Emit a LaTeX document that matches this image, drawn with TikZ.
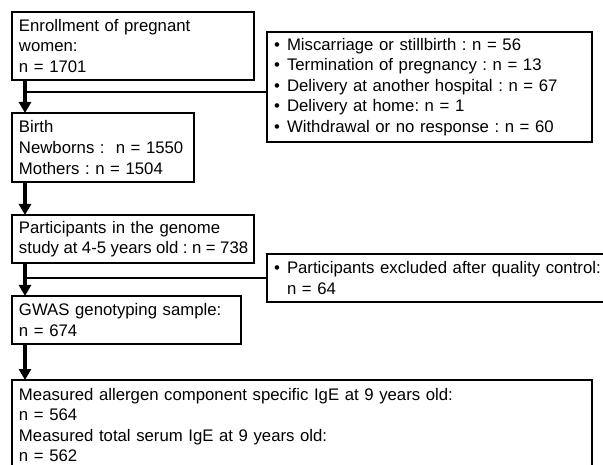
\documentclass[tikz,border=0pt]{standalone}
\usepackage{fontspec}
\setmainfont{Liberation Sans}
\usetikzlibrary{arrows.meta,positioning}
\newcommand{\bul}{\makebox[13pt][l]{\textbullet}}
\frenchspacing

\begin{document}
\begin{tikzpicture}[x=1pt, y=-1pt, node distance=33pt,
      box/.style={draw, line width=2pt, anchor=north west, align=left, inner xsep=7pt, inner ysep=0pt, outer sep=0pt,
        font=\fontsize{16.75}{20.6}\selectfont},
      arr/.style={-{Triangle[width=12pt,length=11pt]}, line width=4.5pt},
      side/.style={line width=2pt}]
    \useasboundingbox (0,0) rectangle (603,465);
    \node[box, text width=228pt, minimum height=68pt] (enr) at (12,12) {Enrollment of pregnant\\women:\\n = 1701};
    \node[box, text width=168pt, minimum height=69pt, below=of enr.south west, anchor=north west] (birth) {Birth\\Newborns :\ \ n = 1550\\Mothers : n = 1504};
    \node[box, text width=228pt, minimum height=48pt, below=of birth.south west, anchor=north west] (gen) {Participants in the genome\\\mbox{\spaceskip=4.5pt\relax study at 4-5 years old : n = 738}};
    \node[box, text width=215pt, minimum height=48pt, below=of gen.south west, anchor=north west] (gwas) {GWAS genotyping sample:\\n = 674};
    \node[box, text width=566pt, minimum height=90pt, below=36pt of gwas.south west, anchor=north west] (ige) {Measured allergen component specific IgE at 9 years old:\\n = 564\\Measured total serum IgE at 9 years old:\\n = 562};
    \node[box, text width=311pt, minimum height=110pt] (exc1) at (267,32) {\bul Miscarriage or stillbirth : n = 56\\\bul Termination of pregnancy : n = 13\\\bul Delivery at another hospital : n = 67\\\bul Delivery at home: n = 1\\\bul Withdrawal or no response : n = 60};
    \node[box, text width=331pt, minimum height=48pt] (exc2) at (267,254) {\bul Participants excluded after quality control:\\\hspace*{13pt}n = 64};
    \draw[arr] ([xshift=13pt]enr.south west) -- ([xshift=13pt]birth.north west);
    \draw[arr] ([xshift=13pt]birth.south west) -- ([xshift=13pt]gen.north west);
    \draw[arr] ([xshift=13pt]gen.south west) -- ([xshift=13pt]gwas.north west);
    \draw[arr] ([xshift=13pt]gwas.south west) -- ([xshift=13pt]ige.north west);
    \draw[side] ([xshift=13pt,yshift=-12pt]enr.south west) coordinate (j1) -- (j1 -| exc1.west);
    \draw[side] ([xshift=13pt,yshift=-15pt]gen.south west) coordinate (j2) -- (j2 -| exc2.west);
  \end{tikzpicture}
\end{document}
